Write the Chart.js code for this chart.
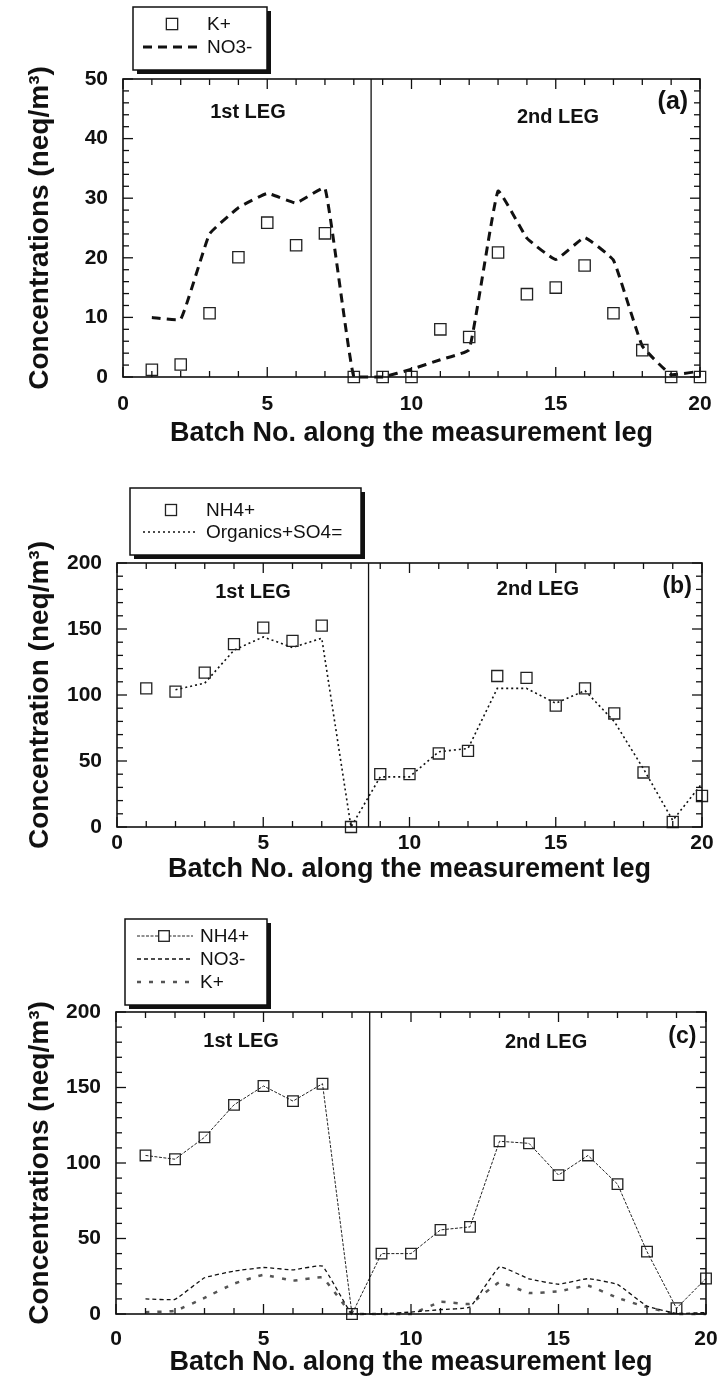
<!DOCTYPE html>
<html>
<head>
<meta charset="utf-8">
<title>Ion concentrations along the measurement leg</title>
<script src="https://cdn.jsdelivr.net/npm/chart.js@4.4.1/dist/chart.umd.min.js"></script>
<style>
  html, body { margin: 0; padding: 0; background: #fff; overflow: hidden; }
  canvas { position: absolute; left: 0; }
</style>
</head>
<body>
<canvas id="chart-a" width="719" height="450" style="top:0px"></canvas>
<canvas id="chart-b" width="719" height="435" style="top:450px"></canvas>
<canvas id="chart-c" width="719" height="492" style="top:885px"></canvas>
<script>
// batch numbers along the leg
const batches = [1, 2, 3, 4, 5, 6, 7, 8, 9, 10, 11, 12, 13, 14, 15, 16, 17, 18, 19, 20];

// concentrations, neq/m3
const kPlus = [1.2, 2.1, 10.7, 20.1, 25.9, 22.1, 24.1, 0, 0, 0, 8.0, 6.7, 20.9, 13.9, 15.0, 18.7, 10.7, 4.5, 0, 0];
const no3 = [10.0, 9.7, 24.0, 28.4, 30.8, 29.2, 31.7, 0, 0, 1.3, 2.9, 4.6, 31.2, 23.3, 19.7, 23.4, 19.6, 5.2, 0.4, 1.0];
const nh4 = [105, 102.5, 117, 138.5, 151, 141, 152.5, 0, 40, 40, 55.7, 57.7, 114.4, 113, 92, 105, 86, 41.3, 3.8, 23.5];
const organicsSo4 = [null, 104, 109, 134, 144, 136, 143, 0, 38, 38, 57, 59.5, 105, 105, 93.7, 103.3, 80, 44, 5, 33];

// tick labels
const xTickValues = [0, 5, 10, 15, 20];
const yTicksA = [0, 10, 20, 30, 40, 50];
const yTicksBC = [0, 50, 100, 150, 200];

// boundary between 1st and 2nd leg (batch no.)
const legBoundary = 8.6;

const FONT = '"Liberation Sans", Arial, Helvetica, sans-serif';
const INK = '#111';

function points(values) {
    return batches.map((b, i) => ({ x: b, y: values[i] }));
}

// frame with inward ticks, leg divider and panel labels
const frameTicks = {
    id: 'frameTicks',
    afterDatasetsDraw(chart, args, opts) {
        const { ctx, chartArea: { left, right, top, bottom }, scales: { x, y } } = chart;
        const seg = (x0, y0, x1, y1) => { ctx.beginPath(); ctx.moveTo(x0, y0); ctx.lineTo(x1, y1); ctx.stroke(); };
        ctx.save();
        ctx.strokeStyle = INK;
        ctx.lineWidth = 1.3;
        for (let v = x.min; v <= x.max + 1e-6; v += opts.xMinor) {
            const px = x.getPixelForValue(v);
            const len = Math.abs(v % opts.xMajor) < 1e-6 ? 10 : 6;
            seg(px, bottom, px, bottom - len);
            seg(px, top, px, top + len);
        }
        for (let v = y.min; v <= y.max + 1e-6; v += opts.yMinor) {
            const py = y.getPixelForValue(v);
            const len = Math.abs(v % opts.yMajor) < 1e-6 ? 10 : 6;
            seg(left, py, left + len, py);
            seg(right, py, right - len, py);
        }
        ctx.lineWidth = 1.6;
        ctx.strokeRect(left, top, right - left, bottom - top);
        ctx.lineWidth = 1.3;
        const bx = x.getPixelForValue(legBoundary);
        seg(bx, top, bx, bottom);

        ctx.fillStyle = INK;
        ctx.textAlign = 'center';
        ctx.textBaseline = 'middle';
        opts.labels.forEach(l => {
            ctx.font = 'bold ' + l.size + 'px ' + FONT;
            ctx.fillText(l.text, x.getPixelForValue(l.x), y.getPixelForValue(l.y));
        });
        ctx.restore();
    }
};

// boxed legend with a drop shadow
const boxLegend = {
    id: 'boxLegend',
    afterDraw(chart, args, opts) {
        const { ctx } = chart;
        const b = opts.box;
        ctx.save();
        ctx.fillStyle = INK;
        ctx.fillRect(b.x + 4, b.y + 4, b.w, b.h);
        ctx.fillStyle = '#fff';
        ctx.fillRect(b.x, b.y, b.w, b.h);
        ctx.strokeStyle = INK;
        ctx.lineWidth = 1.5;
        ctx.strokeRect(b.x, b.y, b.w, b.h);

        ctx.font = '19px ' + FONT;
        ctx.textAlign = 'left';
        ctx.textBaseline = 'middle';
        opts.items.forEach(it => {
            const ds = chart.data.datasets[it.dataset];
            if (it.x1) {
                ctx.save();
                ctx.strokeStyle = ds.borderColor;
                ctx.lineWidth = ds.borderWidth;
                ctx.setLineDash(ds.borderDash || []);
                ctx.beginPath();
                ctx.moveTo(it.x0, it.y);
                ctx.lineTo(it.x1, it.y);
                ctx.stroke();
                ctx.restore();
            }
            if (it.mx) {
                const s = ds.pointRadius * Math.SQRT1_2;
                ctx.save();
                ctx.fillStyle = '#fff';
                ctx.strokeStyle = ds.pointBorderColor;
                ctx.lineWidth = ds.pointBorderWidth;
                ctx.fillRect(it.mx - s, it.y - s, 2 * s, 2 * s);
                ctx.strokeRect(it.mx - s, it.y - s, 2 * s, 2 * s);
                ctx.restore();
            }
            ctx.fillStyle = INK;
            ctx.fillText(ds.label, it.tx, it.y + 1);
        });
        ctx.restore();
    }
};

const squareStyle = {
    showLine: false,
    pointStyle: 'rect',
    pointRadius: 8,
    pointBorderWidth: 1.3,
    pointBorderColor: '#222',
    pointBackgroundColor: 'rgba(0,0,0,0)',
    borderColor: '#222',
    clip: false
};

function makeChart(canvasId, g, c) {
    const canvas = document.getElementById(canvasId);
    const padLeft = g.yTitleX - 14;
    const xBottom = g.xTitleY + 13.5;
    const tickFont = { family: FONT, size: 21, weight: 'bold' };
    return new Chart(canvas, {
        type: 'line',
        data: { datasets: c.datasets },
        options: {
            responsive: false,
            animation: false,
            events: [],
            layout: {
                padding: { left: padLeft, top: g.top, right: canvas.width - g.right, bottom: canvas.height - xBottom }
            },
            scales: {
                x: {
                    type: 'linear',
                    min: 0,
                    max: 20,
                    afterBuildTicks: s => { s.ticks = xTickValues.map(v => ({ value: v })); },
                    afterFit: s => { s.height = xBottom - g.bottom; },
                    // invisible tick marks only push the labels down
                    grid: { display: false, drawTicks: true, tickLength: g.xTickPad },
                    border: { display: false },
                    ticks: { color: INK, padding: 0, font: tickFont, maxRotation: 0 },
                    title: {
                        display: true,
                        text: 'Batch No. along the measurement leg',
                        color: INK,
                        font: { family: FONT, size: 27, weight: 'bold', lineHeight: 1 },
                        padding: 0
                    }
                },
                y: {
                    type: 'linear',
                    min: 0,
                    max: c.yTicks[c.yTicks.length - 1],
                    afterBuildTicks: s => { s.ticks = c.yTicks.map(v => ({ value: v })); },
                    afterFit: s => { s.width = g.left - padLeft; },
                    grid: { display: false, drawTicks: false },
                    border: { display: false },
                    ticks: { color: INK, padding: 15, font: tickFont },
                    title: {
                        display: true,
                        text: c.yTitle,
                        color: INK,
                        font: { family: FONT, size: 28, weight: 'bold', lineHeight: 1 },
                        padding: 0
                    }
                }
            },
            plugins: {
                legend: { display: false },
                tooltip: { enabled: false },
                frameTicks: { xMinor: 1, xMajor: 5, yMinor: c.yMinor, yMajor: c.yMajor, labels: c.labels },
                boxLegend: c.legend
            }
        },
        plugins: [frameTicks, boxLegend]
    });
}

// (a) K+ and NO3-
makeChart('chart-a',
    { left: 123, right: 700, top: 79, bottom: 377, yTitleX: 40, xTitleY: 434, xTickPad: 15 },
    {
        yTicks: yTicksA, yMinor: 2, yMajor: 10,
        yTitle: 'Concentrations (neq/m\u00B3)',
        datasets: [
            Object.assign({ label: 'K+', data: points(kPlus) }, squareStyle),
            {
                label: 'NO3-', data: points(no3),
                borderColor: INK, borderWidth: 3, borderDash: [9, 6],
                pointRadius: 0, tension: 0.1, clip: false
            }
        ],
        labels: [
            { text: '1st LEG', x: 4.33, y: 44.3, size: 20 },
            { text: '2nd LEG', x: 15.08, y: 43.6, size: 20 },
            { text: '(a)', x: 19.06, y: 46.1, size: 25 }
        ],
        legend: {
            box: { x: 133, y: 7, w: 134, h: 63 },
            items: [
                { dataset: 0, mx: 172, tx: 207, y: 24 },
                { dataset: 1, x0: 143, x1: 200, tx: 207, y: 47 }
            ]
        }
    });

// (b) NH4+ and organics + SO4=
makeChart('chart-b',
    { left: 117, right: 702, top: 113, bottom: 377, yTitleX: 40, xTitleY: 420, xTickPad: 4 },
    {
        yTicks: yTicksBC, yMinor: 10, yMajor: 50,
        yTitle: 'Concentration (neq/m\u00B3)',
        datasets: [
            Object.assign({ label: 'NH4+', data: points(nh4) }, squareStyle, { pointRadius: 7.8 }),
            {
                label: 'Organics+SO4=', data: points(organicsSo4),
                borderColor: INK, borderWidth: 1.6, borderDash: [2, 3],
                pointRadius: 0, tension: 0, clip: false
            }
        ],
        labels: [
            { text: '1st LEG', x: 4.65, y: 177.4, size: 20 },
            { text: '2nd LEG', x: 14.39, y: 179.7, size: 20 },
            { text: '(b)', x: 19.15, y: 182, size: 23 }
        ],
        legend: {
            box: { x: 130, y: 38, w: 231, h: 67 },
            items: [
                { dataset: 0, mx: 171, tx: 206, y: 60 },
                { dataset: 1, x0: 143, x1: 197, tx: 206, y: 82 }
            ]
        }
    });

// (c) all three ions together
makeChart('chart-c',
    { left: 116, right: 706, top: 127, bottom: 429, yTitleX: 40, xTitleY: 478, xTickPad: 13 },
    {
        yTicks: yTicksBC, yMinor: 10, yMajor: 50,
        yTitle: 'Concentrations (neq/m\u00B3)',
        datasets: [
            Object.assign({ label: 'NH4+', data: points(nh4) }, squareStyle, {
                showLine: true, borderWidth: 1, borderDash: [3, 1.5], pointRadius: 7.5, tension: 0
            }),
            {
                label: 'NO3-', data: points(no3),
                borderColor: INK, borderWidth: 1.3, borderDash: [4, 3],
                pointRadius: 0, tension: 0.1, clip: false
            },
            {
                label: 'K+', data: points(kPlus),
                borderColor: '#555', borderWidth: 2.5, borderDash: [4, 8],
                pointRadius: 0, tension: 0.1, clip: false
            }
        ],
        labels: [
            { text: '1st LEG', x: 4.24, y: 180.2, size: 20 },
            { text: '2nd LEG', x: 14.58, y: 180, size: 20 },
            { text: '(c)', x: 19.2, y: 184, size: 23 }
        ],
        legend: {
            box: { x: 125, y: 34, w: 142, h: 86 },
            items: [
                { dataset: 0, x0: 137, x1: 193, mx: 164, tx: 200, y: 51 },
                { dataset: 1, x0: 137, x1: 193, tx: 200, y: 74 },
                { dataset: 2, x0: 137, x1: 193, tx: 200, y: 97 }
            ]
        }
    });
</script>
</body>
</html>
